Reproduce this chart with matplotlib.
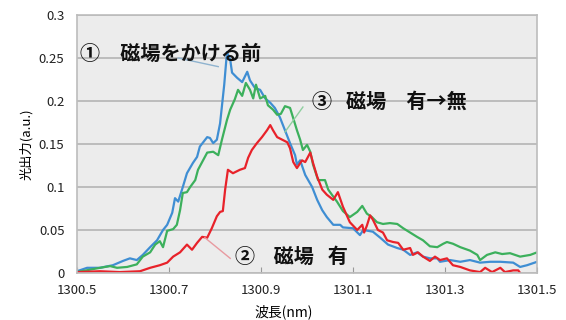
import matplotlib
matplotlib.use("Agg")
from matplotlib import pyplot as plt

plt.rcParams['font.family'] = ['Noto Sans CJK JP', 'DejaVu Sans']

# ① 磁場をかける前 (blue)
wl_before = [1300.500, 1300.522, 1300.550, 1300.578, 1300.600, 1300.615, 1300.630, 1300.643, 1300.659, 1300.674,
             1300.687, 1300.696, 1300.707, 1300.713, 1300.720, 1300.730, 1300.739, 1300.752, 1300.761, 1300.767,
             1300.783, 1300.789, 1300.796, 1300.804, 1300.811, 1300.820, 1300.826, 1300.833, 1300.837, 1300.848,
             1300.859, 1300.870, 1300.876, 1300.887, 1300.898, 1300.909, 1300.920, 1300.930, 1300.941, 1300.952,
             1300.963, 1300.974, 1300.978, 1300.985, 1300.996, 1301.011, 1301.022, 1301.033, 1301.043, 1301.057,
             1301.072, 1301.078, 1301.100, 1301.115, 1301.122, 1301.143, 1301.159, 1301.176, 1301.196, 1301.209,
             1301.224, 1301.239, 1301.252, 1301.267, 1301.283, 1301.289, 1301.311, 1301.333, 1301.354, 1301.376,
             1301.398, 1301.420, 1301.448, 1301.463, 1301.478, 1301.500]
pw_before = [0.002, 0.006, 0.006, 0.009, 0.014, 0.017, 0.015, 0.021, 0.030, 0.038,
             0.050, 0.056, 0.070, 0.087, 0.083, 0.100, 0.116, 0.128, 0.135, 0.147,
             0.158, 0.157, 0.151, 0.155, 0.174, 0.219, 0.257, 0.248, 0.233, 0.227,
             0.222, 0.234, 0.224, 0.215, 0.213, 0.203, 0.198, 0.192, 0.181, 0.166,
             0.151, 0.137, 0.126, 0.131, 0.114, 0.100, 0.085, 0.073, 0.065, 0.056,
             0.056, 0.053, 0.052, 0.044, 0.050, 0.048, 0.041, 0.033, 0.029, 0.027,
             0.021, 0.024, 0.019, 0.017, 0.017, 0.013, 0.015, 0.013, 0.015, 0.012,
             0.013, 0.013, 0.012, 0.007, 0.009, 0.013]

# ③ 磁場 有→無 (green)
wl_after = [1300.500, 1300.550, 1300.572, 1300.587, 1300.609, 1300.630, 1300.643, 1300.659, 1300.670, 1300.680,
            1300.687, 1300.696, 1300.709, 1300.717, 1300.724, 1300.730, 1300.739, 1300.746, 1300.757, 1300.763,
            1300.774, 1300.783, 1300.796, 1300.807, 1300.815, 1300.826, 1300.833, 1300.843, 1300.850, 1300.859,
            1300.867, 1300.876, 1300.883, 1300.889, 1300.898, 1300.909, 1300.915, 1300.926, 1300.935, 1300.943,
            1300.952, 1300.963, 1300.970, 1300.978, 1300.985, 1300.991, 1301.000, 1301.007, 1301.013, 1301.024,
            1301.039, 1301.046, 1301.054, 1301.065, 1301.078, 1301.093, 1301.109, 1301.120, 1301.130, 1301.141,
            1301.152, 1301.165, 1301.180, 1301.196, 1301.209, 1301.224, 1301.239, 1301.252, 1301.267, 1301.283,
            1301.296, 1301.304, 1301.317, 1301.333, 1301.354, 1301.370, 1301.376, 1301.391, 1301.409, 1301.424,
            1301.441, 1301.463, 1301.485, 1301.500]
pw_after = [0.001, 0.006, 0.008, 0.006, 0.007, 0.010, 0.019, 0.024, 0.033, 0.037,
            0.030, 0.049, 0.051, 0.056, 0.073, 0.093, 0.094, 0.100, 0.108, 0.120,
            0.131, 0.140, 0.141, 0.137, 0.155, 0.178, 0.190, 0.202, 0.213, 0.206,
            0.221, 0.213, 0.203, 0.219, 0.203, 0.206, 0.195, 0.190, 0.184, 0.185,
            0.194, 0.192, 0.180, 0.166, 0.155, 0.143, 0.149, 0.141, 0.126, 0.108,
            0.108, 0.097, 0.091, 0.083, 0.072, 0.065, 0.071, 0.078, 0.069, 0.065,
            0.059, 0.057, 0.058, 0.057, 0.052, 0.047, 0.042, 0.038, 0.031, 0.030,
            0.034, 0.036, 0.034, 0.030, 0.026, 0.021, 0.015, 0.021, 0.024, 0.022,
            0.023, 0.019, 0.021, 0.024]

# ② 磁場 有 (red)
wl_on = [1300.500, 1300.550, 1300.593, 1300.637, 1300.659, 1300.680, 1300.696, 1300.709, 1300.724, 1300.739,
         1300.750, 1300.761, 1300.772, 1300.783, 1300.793, 1300.804, 1300.811, 1300.817, 1300.822, 1300.828,
         1300.839, 1300.854, 1300.865, 1300.872, 1300.880, 1300.891, 1300.902, 1300.913, 1300.920, 1300.926,
         1300.935, 1300.946, 1300.957, 1300.963, 1300.970, 1300.978, 1300.989, 1300.996, 1301.007, 1301.013,
         1301.022, 1301.033, 1301.043, 1301.057, 1301.067, 1301.078, 1301.093, 1301.109, 1301.120, 1301.124,
         1301.130, 1301.137, 1301.143, 1301.154, 1301.165, 1301.174, 1301.187, 1301.198, 1301.209, 1301.224,
         1301.230, 1301.241, 1301.252, 1301.267, 1301.278, 1301.289, 1301.304, 1301.317, 1301.333, 1301.354,
         1301.376, 1301.387, 1301.402, 1301.420, 1301.430, 1301.448, 1301.459, 1301.463]
pw_on = [0.001, 0.002, 0.001, 0.002, 0.006, 0.009, 0.012, 0.019, 0.024, 0.033,
         0.027, 0.035, 0.042, 0.041, 0.052, 0.066, 0.071, 0.072, 0.097, 0.120,
         0.116, 0.120, 0.122, 0.134, 0.143, 0.151, 0.158, 0.166, 0.172, 0.166,
         0.158, 0.155, 0.152, 0.145, 0.129, 0.122, 0.131, 0.129, 0.140, 0.128,
         0.112, 0.097, 0.091, 0.085, 0.094, 0.077, 0.059, 0.050, 0.056, 0.047,
         0.055, 0.067, 0.062, 0.050, 0.047, 0.038, 0.036, 0.035, 0.027, 0.029,
         0.021, 0.024, 0.019, 0.014, 0.019, 0.015, 0.017, 0.009, 0.007, 0.003,
         0.001, 0.006, 0.001, 0.006, 0.001, 0.003, 0.003, 0.000]

x_ticks = [1300.5, 1300.7, 1300.9, 1301.1, 1301.3, 1301.5]
y_ticks = [0, 0.05, 0.1, 0.15, 0.2, 0.25, 0.3]
y_ticklabels = ['0', '0.05', '0.1', '0.15', '0.2', '0.25', '0.3']

fig = plt.figure(figsize=(5.66, 3.2), dpi=100)
ax = fig.add_axes([0.136, 0.147, 0.813, 0.806])
ax.set_facecolor('#ececec')

line_kw = dict(lw=1.6, solid_joinstyle='round', solid_capstyle='round')
ax.plot(wl_before, pw_before, color='#3f8ed3', **line_kw)
ax.plot(wl_after, pw_after, color='#3cb05c', **line_kw)
ax.plot(wl_on, pw_on, color='#e8222a', **line_kw)

ax.set_xlim(1300.5, 1301.5)
ax.set_ylim(0, 0.3)
ax.set_xticks(x_ticks)
ax.set_xticklabels([str(v) for v in x_ticks])
ax.set_yticks(y_ticks)
ax.set_yticklabels(y_ticklabels)
ax.grid(axis='y', color='#b4b4b4', lw=1.2)
ax.set_axisbelow(True)
for s in ax.spines.values():
    s.set_color('#bcbcbc')
    s.set_linewidth(1.2)
ax.tick_params(axis='y', length=0, pad=9, labelsize=9.5, labelcolor='#222222')
ax.tick_params(axis='x', direction='in', length=4, color='#999999', pad=8, labelsize=9.5, labelcolor='#222222')

ax.set_xlabel('波長(nm)', fontsize=10)
ax.xaxis.set_label_coords(0.45, -0.12)
ax.set_ylabel('光出力(a.u.)', fontsize=9.5)
ax.yaxis.set_label_coords(-0.095, 0.5)

# 注記と引き出し線
note_kw = dict(fontsize=14.5, fontweight='bold', va='center', color='#111111')
ax.text(1300.507, 0.256, '①　磁場をかける前', **note_kw)
ax.plot([1300.720, 1300.807], [0.250, 0.240], color='#8fb3cf', lw=1)
ax.text(1301.011, 0.200, '③   磁場　有→無', **note_kw)
ax.plot([1300.991, 1300.952], [0.193, 0.164], color='#8fcf9f', lw=1)
ax.text(1300.843, 0.019, '②    磁場   有', **note_kw)
ax.plot([1300.778, 1300.833], [0.041, 0.017], color='#e89aa0', lw=1)

fig.savefig('out.png', dpi=100)
